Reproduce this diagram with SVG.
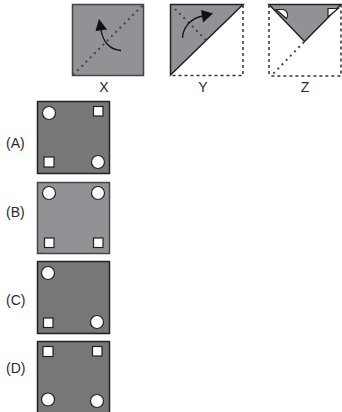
<svg xmlns="http://www.w3.org/2000/svg" width="342" height="412" viewBox="0 0 342 412">
<style>
text{font-family:"Liberation Sans",Arial,sans-serif;font-size:14px;fill:#2a2a2a}
.c{text-anchor:middle}
.e{stroke:#222;stroke-width:1.5}
.h{fill:#fff;stroke:#222;stroke-width:1.2}
.d{fill:none;stroke:#333;stroke-width:1.5;stroke-dasharray:3 3}
.s{fill:none;stroke:#444;stroke-width:2;stroke-dasharray:2 4}
.a{fill:none;stroke:#111;stroke-width:1.3}
.ld{fill:#777}.lt{fill:#929296}
</style>
<rect width="342" height="412" fill="#fff"/>
<g id="X">
<rect x="72.500" y="4.500" width="71" height="71" fill="#929296" stroke="#444" stroke-width="1.500"/>
<path class="s" d="M73 75L143 5"/>
<path class="a" d="M121 50.500C110 50 103 42 101 30"/>
<path d="M99 19L107 29.500L95.500 31Z" fill="#111"/>
<text class="c" x="104" y="92">X</text>
</g>
<g id="Y">
<path d="M170.500 4.500H243L170.500 75Z" fill="#929296" class="e"/>
<path class="d" d="M243 5V75.500H171"/>
<path class="s" d="M175 9L207 41"/>
<path class="a" d="M182.500 38C183 27 191 18 203 16"/>
<path d="M213 13.500L203 22.500L201 10Z" fill="#111"/>
<text class="c" x="203" y="92">Y</text>
</g>
<g id="Z">
<path d="M269 4.500H341L304.500 41.500Z" fill="#929296" class="e"/>
<path class="d" d="M269 5V74L272 76H341V5"/>
<path class="s" d="M304 42L272 75"/>
<path class="h" d="M276 9.500H283C287 10 289 15 286.500 18.500Z"/>
<path class="h" d="M328 8.500H338L328 17Z"/>
<text class="c" x="305" y="92">Z</text>
</g>
<g id="A">
<rect class="ld" x="37.500" y="101.500" width="72" height="72" stroke="#222" stroke-width="1.500"/>
<circle class="h" cx="49" cy="113" r="6.500"/><rect class="h" x="93.500" y="106.500" width="9.500" height="9.500"/>
<rect class="h" x="44" y="157" width="10" height="10"/><circle class="h" cx="98" cy="162" r="6.500"/>
<text x="6" y="148">(A)</text>
</g>
<g id="B">
<rect class="lt" x="37.500" y="182.500" width="72" height="71" stroke="#444" stroke-width="1.500"/>
<circle class="h" cx="49" cy="193" r="6.500"/><circle class="h" cx="98" cy="193" r="6.500"/>
<rect class="h" x="44.500" y="238" width="9.500" height="9.500"/><rect class="h" x="93.500" y="238" width="9.500" height="9.500"/>
<text x="6" y="217">(B)</text>
</g>
<g id="C">
<rect class="ld" x="37.500" y="261.500" width="72" height="72" stroke="#222" stroke-width="1.500"/>
<circle class="h" cx="48" cy="273" r="6.500"/>
<rect class="h" x="43.500" y="318" width="9.500" height="9.500"/><circle class="h" cx="97" cy="322" r="6.500"/>
<text x="6" y="305">(C)</text>
</g>
<g id="D">
<rect class="ld" x="37.500" y="341.500" width="72" height="72" stroke="#222" stroke-width="1.500"/>
<rect class="h" x="43" y="346.500" width="10" height="10"/><rect class="h" x="92.500" y="346.500" width="9.500" height="9.500"/>
<circle class="h" cx="48" cy="399.500" r="6.500"/><circle class="h" cx="97" cy="401" r="6.500"/>
<text x="6" y="373">(D)</text>
</g>
</svg>
